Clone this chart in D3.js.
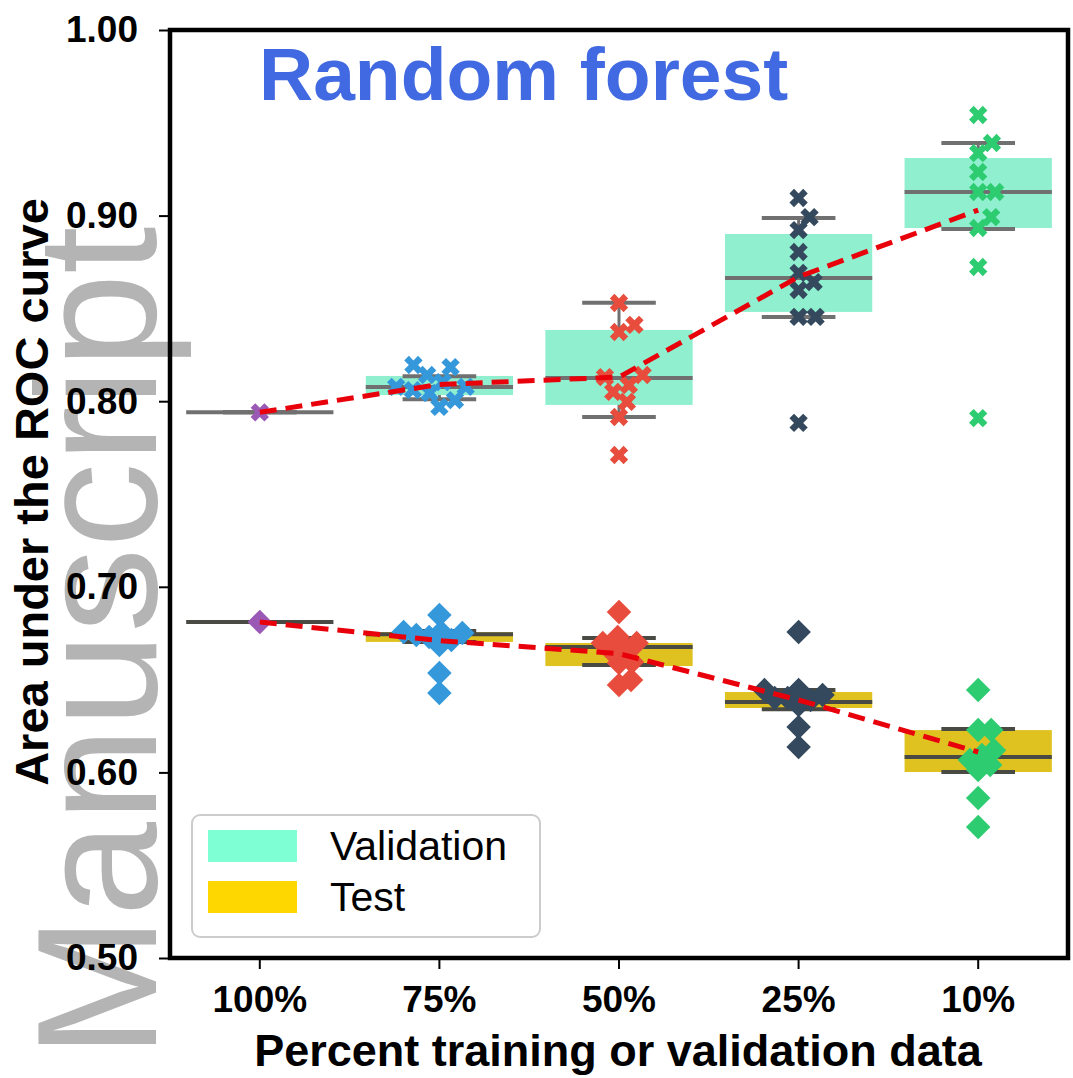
<!DOCTYPE html>
<html>
<head>
<meta charset="utf-8">
<script src="https://d3js.org/d3.v7.min.js"></script>
<style>
  body { margin: 0; background: white; }
  text { font-family: "Liberation Sans", Arial, sans-serif; }
</style>
</head>
<body>
<div id="chart"></div>
<script>
//Data///////////////////////////
var categories = ['100%', '75%', '50%', '25%', '10%'];
var pointColors = ['#9b59b6', '#3498db', '#e74c3c', '#34495e', '#2ecc71'];

// validation AUC per run (x markers)
var valPoints = [
    [0.794],
    [0.8195, 0.8184, 0.8141, 0.8103, 0.8077, 0.8077, 0.806, 0.8044, 0.8006, 0.7969],
    [0.8529, 0.8411, 0.8373, 0.8141, 0.813, 0.8087, 0.805, 0.7996, 0.7915, 0.771],
    [0.9095, 0.8992, 0.8922, 0.8804, 0.8691, 0.8642, 0.8599, 0.8454, 0.8454, 0.7883],
    [0.9542, 0.9391, 0.9337, 0.9235, 0.9127, 0.9127, 0.8992, 0.8933, 0.8723, 0.7909]
];
// test AUC per run (diamonds)
var testPoints = [
    [0.681],
    [0.6848, 0.6756, 0.6756, 0.6751, 0.674, 0.6729, 0.6713, 0.6686, 0.6536, 0.6428],
    [0.6864, 0.6729, 0.6697, 0.6697, 0.667, 0.6649, 0.6595, 0.6589, 0.6498, 0.6471],
    [0.6756, 0.6444, 0.6444, 0.6417, 0.6401, 0.6401, 0.639, 0.6363, 0.6245, 0.6137],
    [0.6444, 0.6228, 0.6228, 0.612, 0.6094, 0.6067, 0.604, 0.6013, 0.5862, 0.5706]
];

// box stats
var valQ1     = [0.794, 0.8033, 0.798, 0.8481, 0.8933];
var valMedian = [0.794, 0.8077, 0.8125, 0.8664, 0.9127];
var valQ3     = [0.794, 0.8136, 0.8384, 0.8901, 0.931];
var valLow    = [0.794, 0.801, 0.7915, 0.8454, 0.8928];
var valHigh   = [0.794, 0.8135, 0.853, 0.8987, 0.9391];

var testQ1     = [0.681, 0.6703, 0.6573, 0.6347, 0.6002];
var testMedian = [0.681, 0.6745, 0.6676, 0.6379, 0.6083];
var testQ3     = [0.681, 0.6756, 0.6697, 0.6433, 0.6228];
var testLow    = [0.681, 0.6703, 0.6579, 0.634, 0.6002];
var testHigh   = [0.681, 0.6762, 0.6724, 0.6444, 0.6234];

// means (red dashed lines)
var valMeans  = [0.794, 0.809, 0.813, 0.867, 0.903];
var testMeans = [0.681, 0.671, 0.664, 0.639, 0.611];

var yTicks = [0.5, 0.6, 0.7, 0.8, 0.9, 1.0];

//Setup///////////////////////////
var W = 1073, H = 1078;
var plot = {left: 170, top: 30, right: 1068, bottom: 958};

var svg = d3.select('#chart')
    .append('svg')
    .attr('width', W)
    .attr('height', H);

var x = d3.scaleBand()
    .domain(categories)
    .range([plot.left, plot.right]);

var y = d3.scaleLinear()
    .domain([0.5, 1.0])
    .range([plot.bottom, plot.top]);

var boxW = x.step() * 0.82;

//Watermark (behind everything)
svg.append('text')
    .attr('transform', 'translate(156,1058) rotate(-90)')
    .style('font-size', '170px')
    .style('fill', '#b4b4b4')
    .text('Manuscript');

//Boxes///////////////////////////
function drawBoxes(q1, med, q3, lo, hi, fill, lineCol) {
    var g = svg.append('g');
    categories.forEach(function(c, i) {
        var cx = x(c) + x.bandwidth() / 2;
        // whiskers
        g.append('line')
            .attr('x1', cx).attr('x2', cx)
            .attr('y1', y(hi[i])).attr('y2', y(lo[i]))
            .style('stroke', lineCol).style('stroke-width', 3);
        g.append('rect')
            .attr('x', cx - boxW / 2)
            .attr('y', y(q3[i]))
            .attr('width', boxW)
            .attr('height', Math.max(0, y(q1[i]) - y(q3[i])))
            .style('fill', fill);
        [lo[i], hi[i]].forEach(function(v) {
            g.append('line')
                .attr('x1', cx - boxW / 4).attr('x2', cx + boxW / 4)
                .attr('y1', y(v)).attr('y2', y(v))
                .style('stroke', lineCol).style('stroke-width', 4);
        });
        g.append('line')
            .attr('x1', cx - boxW / 2).attr('x2', cx + boxW / 2)
            .attr('y1', y(med[i])).attr('y2', y(med[i]))
            .style('stroke', lineCol).style('stroke-width', 4);
    });
}
drawBoxes(valQ1, valMedian, valQ3, valLow, valHigh, '#8fefcf', '#707070');
drawBoxes(testQ1, testMedian, testQ3, testLow, testHigh, '#dfc220', '#4a4a44');

//Swarm layout (seaborn-like)
function swarm(vals, cx, d) {
    var sorted = vals.slice().sort(function(a, b) { return a - b; });
    var placed = [];
    sorted.forEach(function(v) {
        var py = y(v);
        var cands = [cx];
        placed.forEach(function(p) {
            var dy = Math.abs(p.y - py);
            if (dy < d) {
                var dx = Math.sqrt(d * d - dy * dy);
                cands.push(p.x + dx, p.x - dx);
            }
        });
        cands.sort(function(a, b) { return Math.abs(a - cx) - Math.abs(b - cx); });
        var px = cands.find(function(c) {
            return placed.every(function(p) {
                return Math.hypot(p.x - c, p.y - py) >= d - 0.01;
            });
        });
        placed.push({x: px, y: py, v: v});
    });
    return placed;
}

var xMark = d3.symbol().type(d3.symbolCross).size(210);
var diamond = d3.symbol().type(d3.symbolSquare).size(300);

//Points///////////////////////////
categories.forEach(function(c, i) {
    var cx = x(c) + x.bandwidth() / 2;
    svg.append('g').selectAll('path')
        .data(swarm(valPoints[i], cx, 17))
        .enter().append('path')
        .attr('d', xMark)
        .attr('transform', function(p) { return 'translate(' + p.x + ',' + p.y + ') rotate(45)'; })
        .style('fill', pointColors[i]);
    svg.append('g').selectAll('path')
        .data(swarm(testPoints[i], cx, 13))
        .enter().append('path')
        .attr('d', diamond)
        .attr('transform', function(p) { return 'translate(' + p.x + ',' + p.y + ') rotate(45)'; })
        .style('fill', pointColors[i]);
});

//Mean lines
var line = d3.line()
    .x(function(d, i) { return x(categories[i]) + x.bandwidth() / 2; })
    .y(function(d) { return y(d); });

[valMeans, testMeans].forEach(function(m) {
    svg.append('path')
        .datum(m)
        .attr('d', line)
        .style('fill', 'none')
        .style('stroke', '#e8000b')
        .style('stroke-width', 5)
        .style('stroke-dasharray', '17,9');
});

//Axes///////////////////////////
var yAxis = svg.append('g')
    .attr('transform', 'translate(' + plot.left + ',0)')
    .call(d3.axisLeft(y).tickValues(yTicks).tickSize(11).tickPadding(21)
        .tickFormat(d3.format('.2f')));
var xAxis = svg.append('g')
    .attr('transform', 'translate(0,' + plot.bottom + ')')
    .call(d3.axisBottom(x).tickSize(11).tickPadding(17));

[yAxis, xAxis].forEach(function(a) {
    a.select('.domain').remove();
    a.selectAll('line').style('stroke', 'black').style('stroke-width', 2);
    a.selectAll('text')
        .style('font-family', '"Liberation Sans", Arial, sans-serif')
        .style('font-size', '37px')
        .style('font-weight', 'bold')
        .style('fill', 'black');
});

//Frame
svg.append('rect')
    .attr('x', plot.left).attr('y', plot.top)
    .attr('width', plot.right - plot.left)
    .attr('height', plot.bottom - plot.top)
    .style('fill', 'none')
    .style('stroke', 'black')
    .style('stroke-width', 4.5);

//Labels
svg.append('text')
    .attr('x', (plot.left + plot.right) / 2 - 1)
    .attr('y', 1066)
    .style('text-anchor', 'middle')
    .style('font-size', '45px')
    .style('font-weight', 'bold')
    .text('Percent training or validation data');

svg.append('text')
    .attr('transform', 'translate(48,492) rotate(-90)')
    .style('text-anchor', 'middle')
    .style('font-size', '47px')
    .style('font-weight', 'bold')
    .text('Area under the ROC curve');

svg.append('text')
    .attr('x', 259)
    .attr('y', 100)
    .style('font-size', '75px')
    .style('font-weight', 'bold')
    .style('fill', '#4169e1')
    .text('Random forest');

//Legend
var leg = svg.append('g');
leg.append('rect')
    .attr('x', 192).attr('y', 815)
    .attr('width', 348).attr('height', 122)
    .attr('rx', 8)
    .style('fill', 'white').style('fill-opacity', 0.85)
    .style('stroke', '#cccccc').style('stroke-width', 2);
var legItems = [['Validation', '#7fffd4'], ['Test', '#ffd700']];
legItems.forEach(function(it, i) {
    leg.append('rect')
        .attr('x', 208).attr('y', 830 + i * 51)
        .attr('width', 89).attr('height', 32)
        .style('fill', it[1]);
    leg.append('text')
        .attr('x', 330).attr('y', 860 + i * 51)
        .style('font-size', '41px')
        .text(it[0]);
});
</script>
</body>
</html>
